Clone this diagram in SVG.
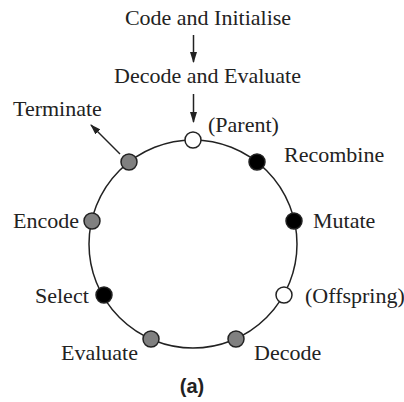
<svg xmlns="http://www.w3.org/2000/svg" width="404" height="402" viewBox="0 0 404 402">
<style>
.t{font-family:"Liberation Serif","Times New Roman",serif;font-size:22px;fill:#222}
.b{font-family:"Liberation Sans",Arial,sans-serif;font-size:20px;font-weight:bold;fill:#222}
.n{stroke:#222;stroke-width:1.5}
.w{fill:#fff}.k{fill:#000}.g{fill:#808080}
.c{fill:none;stroke:#222;stroke-width:1.5}
</style>
<defs>
<marker id="ah" viewBox="0 0 10 10" refX="9" refY="5" markerWidth="11" markerHeight="11" markerUnits="userSpaceOnUse" orient="auto">
<path d="M0,1.8 L10,5 L0,8.2 Z" fill="#222"/>
</marker>
</defs>
<rect width="404" height="402" fill="#fff"/>
<g id="connectors">
<circle class="c" cx="193" cy="244" r="104"/>
<line class="c" x1="193.5" y1="35" x2="193.5" y2="62" marker-end="url(#ah)"/>
<line class="c" x1="193.5" y1="94" x2="193.5" y2="122" marker-end="url(#ah)"/>
<line class="c" x1="120" y1="154" x2="91" y2="125" marker-end="url(#ah)"/>
</g>
<g id="title"><text class="t" x="208" y="25" text-anchor="middle">Code and Initialise</text></g>
<g id="decode-evaluate"><text class="t" x="207.5" y="83" text-anchor="middle">Decode and Evaluate</text></g>
<g id="parent"><circle class="n w" cx="193" cy="140" r="8"/><text class="t" x="208" y="132">(Parent)</text></g>
<g id="recombine"><circle class="n k" cx="257" cy="162" r="8"/><text class="t" x="284" y="162">Recombine</text></g>
<g id="mutate"><circle class="n k" cx="294" cy="221" r="8"/><text class="t" x="313" y="228">Mutate</text></g>
<g id="offspring"><circle class="n w" cx="284" cy="295" r="8"/><text class="t" x="305" y="303">(Offspring)</text></g>
<g id="decode"><circle class="n g" cx="236" cy="339" r="8"/><text class="t" x="254" y="360">Decode</text></g>
<g id="evaluate"><circle class="n g" cx="151" cy="339" r="8"/><text class="t" x="61" y="360">Evaluate</text></g>
<g id="select"><circle class="n k" cx="104" cy="295" r="8"/><text class="t" x="35" y="303">Select</text></g>
<g id="encode"><circle class="n g" cx="92" cy="221" r="8"/><text class="t" x="13" y="228">Encode</text></g>
<g id="terminate"><circle class="n g" cx="129" cy="162" r="8"/><text class="t" x="13" y="116">Terminate</text></g>
<g id="caption"><text class="b" x="192" y="393" text-anchor="middle">(a)</text></g>
</svg>
